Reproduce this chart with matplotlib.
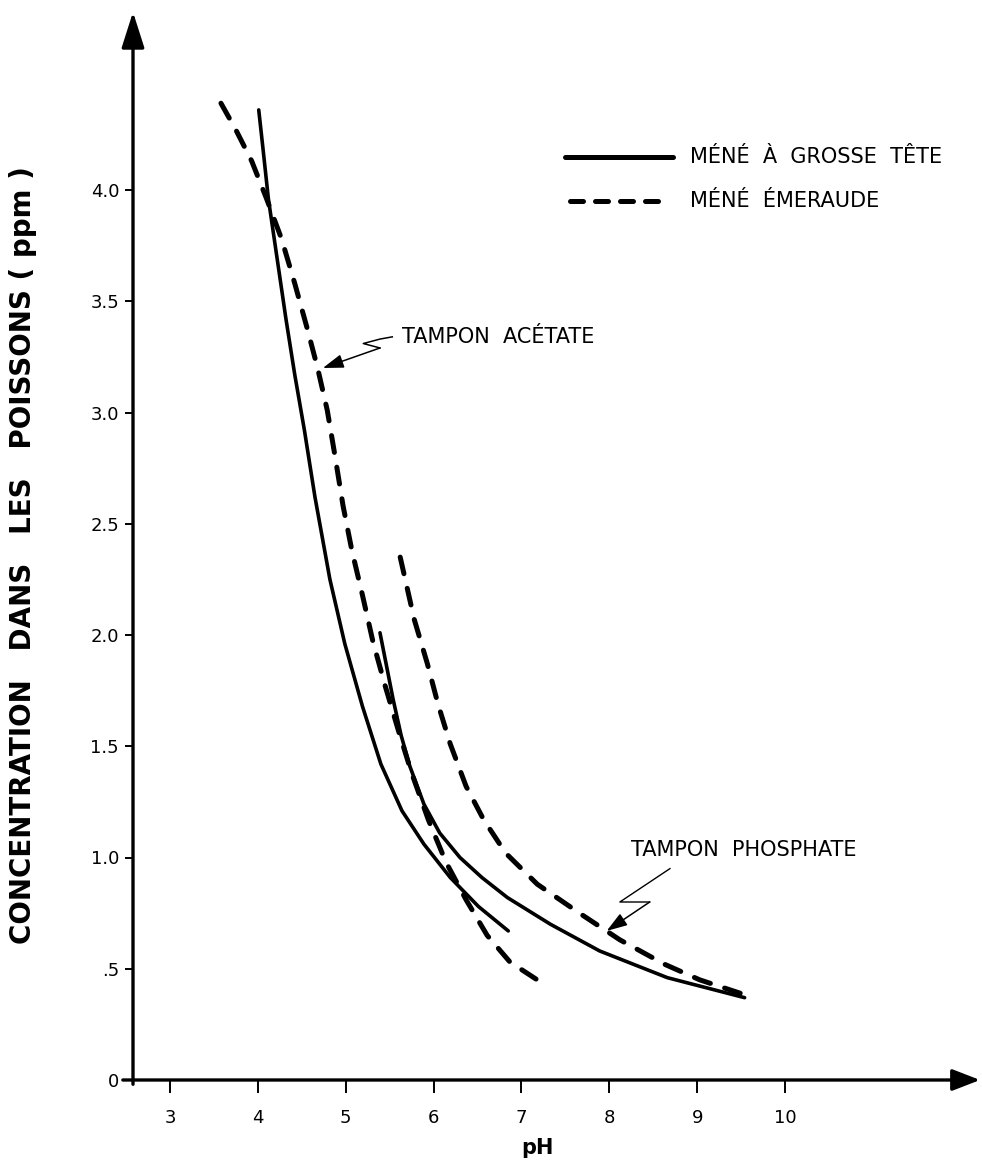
import matplotlib
matplotlib.use("Agg")
import matplotlib.pyplot as plt

plt.rcParams['font.family'] = ['DejaVu Sans']

# ---------------- data ----------------
# Méné à grosse tête, tampon acétate (solid)
ph_fathead_acetate = [4.01, 4.06, 4.12, 4.22, 4.32, 4.42, 4.53, 4.65, 4.82, 4.99, 5.19,
                      5.40, 5.64, 5.89, 6.19, 6.51, 6.85]
c_fathead_acetate = [4.36, 4.18, 3.96, 3.69, 3.42, 3.17, 2.92, 2.62, 2.25, 1.96, 1.68,
                     1.42, 1.21, 1.06, 0.91, 0.78, 0.67]

# Méné émeraude, tampon acétate (dashed)
ph_emerald_acetate = [3.58, 3.75, 3.93, 4.10, 4.27, 4.42, 4.56, 4.68, 4.79, 4.88, 4.97, 5.07,
                      5.19, 5.31, 5.45, 5.60, 5.75, 5.94, 6.14, 6.37, 6.61, 6.87, 7.18]
c_emerald_acetate = [4.39, 4.27, 4.13, 3.96, 3.78, 3.58, 3.38, 3.20, 3.01, 2.80, 2.58, 2.38,
                     2.18, 1.97, 1.77, 1.57, 1.38, 1.17, 0.98, 0.81, 0.65, 0.53, 0.45]

# Méné à grosse tête, tampon phosphate (solid)
ph_fathead_phosphate = [5.39, 5.46, 5.54, 5.63, 5.73, 5.89, 6.07, 6.30, 6.55, 6.84, 7.33,
                        7.89, 8.66, 9.54]
c_fathead_phosphate = [2.01, 1.87, 1.71, 1.55, 1.41, 1.24, 1.11, 1.00, 0.91, 0.82, 0.70,
                       0.58, 0.46, 0.37]

# Méné émeraude, tampon phosphate (dashed)
ph_emerald_phosphate = [5.62, 5.78, 5.93, 6.05, 6.19, 6.37, 6.57, 6.82, 7.18, 7.66, 8.12,
                        8.63, 9.03, 9.49]
c_emerald_phosphate = [2.35, 2.07, 1.87, 1.69, 1.51, 1.32, 1.17, 1.02, 0.88, 0.75, 0.63,
                       0.52, 0.45, 0.39]

x_ticks = [3, 4, 5, 6, 7, 8, 9, 10]
x_ticklabels = ['3', '4', '5', '6', '7', '8', '9', '10']
y_ticks = [0, 0.5, 1.0, 1.5, 2.0, 2.5, 3.0, 3.5, 4.0]
y_ticklabels = ['0', '.5', '1.0', '1.5', '2.0', '2.5', '3.0', '3.5', '4.0']

legend_labels = ['MÉNÉ  À  GROSSE  TÊTE', 'MÉNÉ  ÉMERAUDE']
label_acetate = 'TAMPON  ACÉTATE'
label_phosphate = 'TAMPON  PHOSPHATE'
x_label = 'pH'
y_label = 'CONCENTRATION   DANS   LES   POISSONS ( ppm )'

# ---------------- figure ----------------
W, H = 982, 1162
fig = plt.figure(figsize=(W / 100, H / 100), dpi=100)
fig.patch.set_facecolor('white')

x0, x1 = 133, 980      # pixel extent of axes
y0, y1 = 1080, 12      # pixel (from top) of v=0 and arrow tip
ax = fig.add_axes([x0 / W, (H - y0) / H, (x1 - x0) / W, (y0 - y1) / H])
ax.set_xlim(2.579, 12.219)
ax.set_ylim(0, 4.80)
for s in ax.spines.values():
    s.set_visible(False)

# axes with arrows
arrow_kw = dict(arrowstyle='-|>,head_length=1.1,head_width=0.35', lw=2.4, color='black',
                shrinkA=0, shrinkB=0, mutation_scale=20)
ax.annotate('', xy=(1, 0), xytext=(-0.012, 0), xycoords='axes fraction',
            arrowprops=dict(arrow_kw, arrowstyle='-|>,head_length=0.85,head_width=0.33'))
ax.annotate('', xy=(0, 1), xytext=(0, -0.004), xycoords='axes fraction', arrowprops=arrow_kw)

ax.set_xticks(x_ticks)
ax.set_xticklabels(x_ticklabels)
ax.set_yticks(y_ticks)
ax.set_yticklabels(y_ticklabels)
ax.tick_params(axis='x', direction='out', length=9, width=1.4, labelsize=13, pad=12)
ax.tick_params(axis='y', direction='out', length=6, width=1.4, labelsize=13, pad=4)

# curves
solid_kw = dict(color='black', lw=2.6, solid_capstyle='round', solid_joinstyle='round')
dash_kw = dict(color='black', lw=3.6, linestyle=(0, (3.4, 3.0)), dash_capstyle='round',
               dash_joinstyle='round')
ax.plot(ph_fathead_acetate, c_fathead_acetate, **solid_kw)
ax.plot(ph_emerald_acetate, c_emerald_acetate, **dash_kw)
ax.plot(ph_fathead_phosphate, c_fathead_phosphate, **solid_kw)
ax.plot(ph_emerald_phosphate, c_emerald_phosphate, **dash_kw)

# legend drawn by hand
def fx(px):
    return (px - x0) / (x1 - x0)

def fy(py):
    return (y0 - py) / (y0 - y1)

ax.plot([fx(565), fx(673)], [fy(157), fy(157)], transform=ax.transAxes, color='black',
        lw=3.6, solid_capstyle='round', clip_on=False)
ax.plot([fx(570), fx(668)], [fy(201), fy(201)], transform=ax.transAxes, color='black',
        lw=3.6, linestyle=(0, (2.6, 2.4)), dash_capstyle='round', clip_on=False)
ax.text(fx(690), fy(157), legend_labels[0], transform=ax.transAxes, fontsize=15,
        va='center', ha='left')
ax.text(fx(690), fy(201), legend_labels[1], transform=ax.transAxes, fontsize=15,
        va='center', ha='left')

# annotations
ax.text(fx(402), fy(337), label_acetate, transform=ax.transAxes, fontsize=15,
        va='center', ha='left')
ax.text(fx(631), fy(850), label_phosphate, transform=ax.transAxes, fontsize=15,
        va='center', ha='left')

ax.plot([5.53, 5.39, 5.20, 5.39], [3.34, 3.33, 3.31, 3.29], color='black', lw=1.1)
ax.annotate('', xy=(4.74, 3.20), xytext=(5.39, 3.29),
            arrowprops=dict(arrowstyle='-|>,head_length=0.9,head_width=0.3', lw=1.1,
                            color='black', shrinkA=0, shrinkB=0, mutation_scale=14))
ax.plot([8.69, 8.12, 8.46], [0.95, 0.80, 0.80], color='black', lw=1.0)
ax.annotate('', xy=(7.97, 0.67), xytext=(8.46, 0.80),
            arrowprops=dict(arrowstyle='-|>,head_length=0.9,head_width=0.3', lw=1.1,
                            color='black', shrinkA=0, shrinkB=0, mutation_scale=14))

fig.text(537 / W, (H - 1148) / H, x_label, fontsize=15, fontweight='bold', ha='center', va='center')
fig.text(23 / W, (H - 555) / H, y_label, fontsize=20, fontweight='bold', rotation=90,
         ha='center', va='center')

fig.savefig('out.png', dpi=100)
